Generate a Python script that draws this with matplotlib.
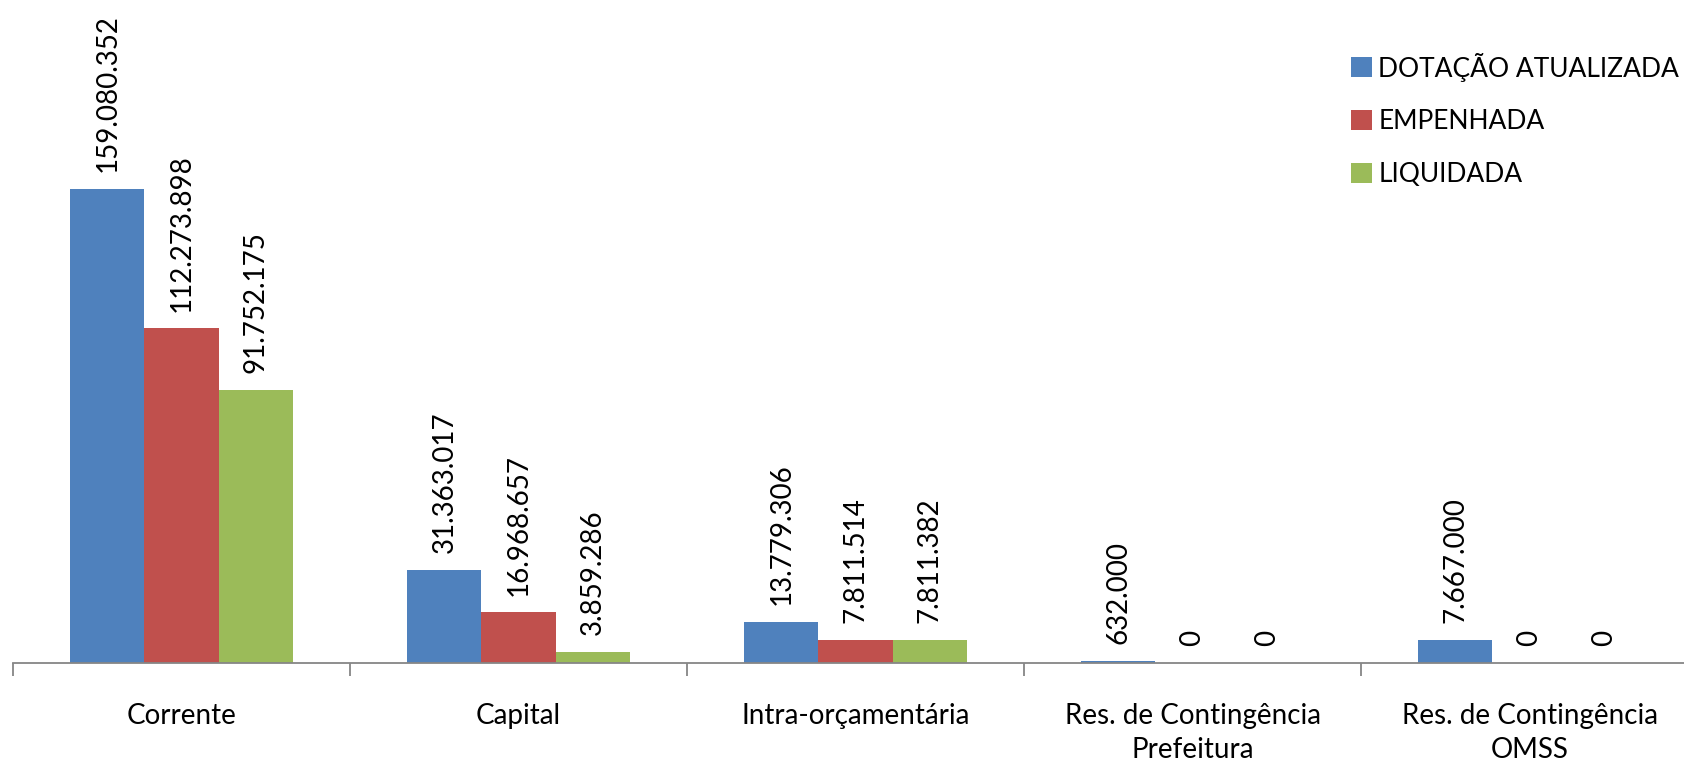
import numpy as np
import matplotlib.pyplot as plt

plt.rcParams['font.family'] = ['Lato', 'DejaVu Sans']

categories = ['Corrente', 'Capital', 'Intra-orçamentária',
              'Res. de Contingência\nPrefeitura', 'Res. de Contingência\nOMSS']
series_names = ['DOTAÇÃO ATUALIZADA', 'EMPENHADA', 'LIQUIDADA']
dotacao = [159080352, 31363017, 13779306, 632000, 7667000]
empenhada = [112273898, 16968657, 7811514, 0, 0]
liquidada = [91752175, 3859286, 7811382, 0, 0]
colors = ['#4F81BD', '#C0504D', '#9BBB59']


def fmt(v):
    return f"{v:,}".replace(',', '.')


fig = plt.figure(figsize=(16.84, 7.68), dpi=100)
# axes spans slightly past the right edge, like the original export
ax = fig.add_axes([13 / 1684, 1 - 663 / 768, 1685 / 1684, 663 / 768])

x = np.arange(len(categories))
width = 0.22
for i, (vals, c) in enumerate(zip([dotacao, empenhada, liquidada], colors)):
    pos = x + (i - 1) * width
    ax.bar(pos, vals, width, color=c, label=series_names[i])
    for px, v in zip(pos, vals):
        ax.annotate(fmt(v), (px, v), xytext=(0, 12), textcoords='offset points',
                    rotation=90, ha='center', va='bottom', fontsize=20)

ax.set_xlim(-0.5, len(categories) - 0.5)
ax.set_ylim(0, 222.5e6)
ax.set_yticks([])
for s in ['top', 'right', 'left']:
    ax.spines[s].set_visible(False)
ax.spines['bottom'].set_color('#868686')
ax.spines['bottom'].set_linewidth(1.3)

ax.set_xticks(np.arange(len(categories) + 1) - 0.5, minor=False)
ax.set_xticklabels([])
ax.tick_params(axis='x', length=9, color='#868686', width=1.3)
for xi, lab in zip(x, categories):
    ax.text(xi, -0.06, lab, transform=ax.get_xaxis_transform(), ha='center',
            va='top', fontsize=20, linespacing=1.4)

leg = fig.legend(loc='upper left', bbox_to_anchor=(1340 / 1684, 1 - 42 / 768),
                 frameon=False, fontsize=19, handlelength=0.8, handleheight=0.8,
                 handletextpad=0.25, labelspacing=1.05, borderaxespad=0)

fig.savefig('out.png', dpi=100)
